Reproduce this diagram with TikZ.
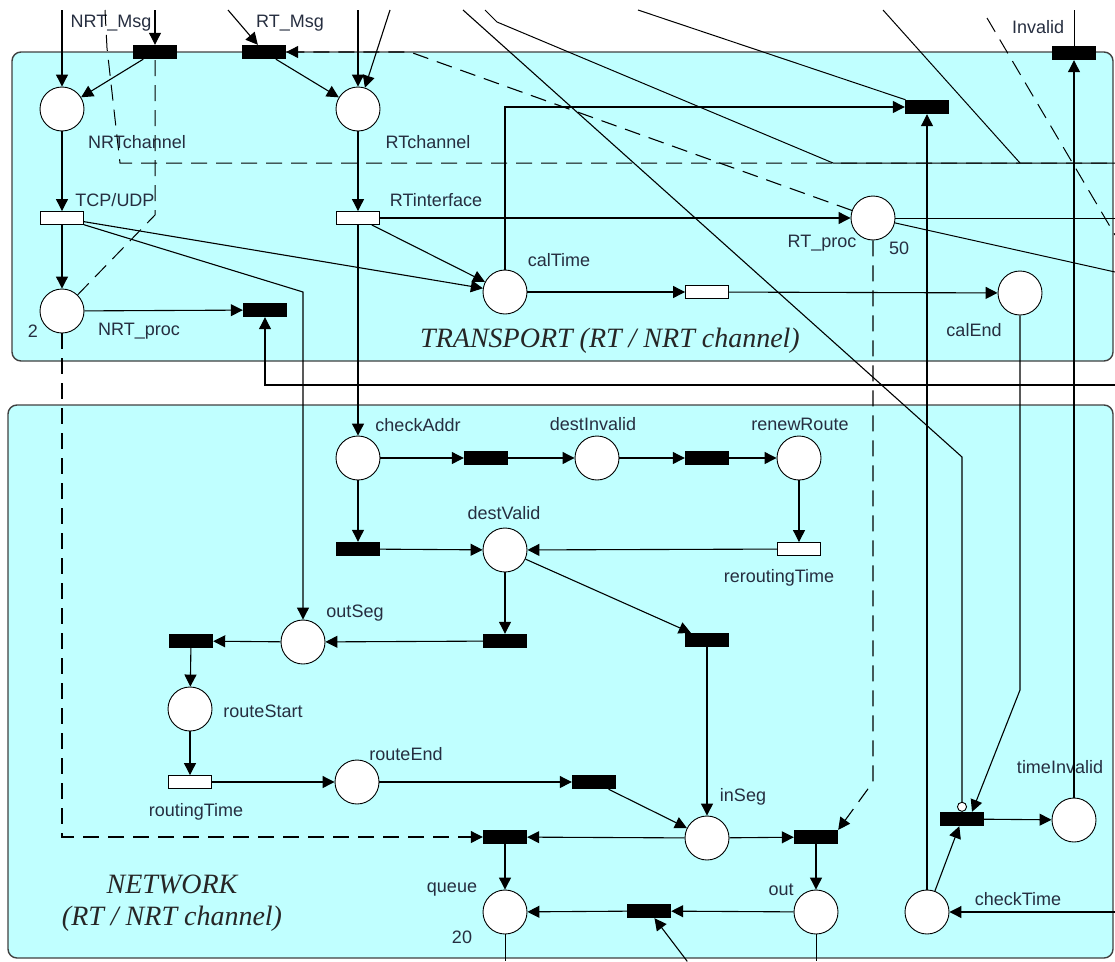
\documentclass[tikz,border=0pt]{standalone}
\usepackage{fontspec}
\setmainfont{Liberation Sans}
\newfontfamily\serifit{Liberation Serif}
\usetikzlibrary{shapes,arrows.meta}
\definecolor{layerbg}{RGB}{192,255,255}
\definecolor{lbl}{RGB}{38,46,64}

\begin{document}
\begin{tikzpicture}[x=1pt,y=-1pt,
  place/.style={shape=circle,draw=black,fill=white,minimum size=44pt,inner sep=0pt,line width=0.9pt},
  bar/.style={shape=rectangle,fill=black,minimum width=44pt,minimum height=14pt,inner sep=0pt},
  tbar/.style={shape=rectangle,draw=black,fill=white,minimum width=43pt,minimum height=13pt,inner sep=0pt,line width=0.9pt},
  wire/.style={draw=black,line width=1pt},
  arc/.style={-{Triangle[length=12pt,width=12pt]},draw=black,line width=1.1pt},
  inhib/.style={-{Circle[length=10pt,width=10pt,fill=white,line width=0.9pt]},draw=black,line width=1.1pt},
  dsh/.style={dash pattern=on 16pt off 9pt},
  txt/.style={text=lbl,font=\fontsize{18}{20}\selectfont,inner sep=0pt},
  layer/.style={text=black!85,font=\serifit\itshape\fontsize{28}{32}\selectfont,align=center,inner sep=0pt},
  frame/.style={draw=black!75,fill=layerbg,line width=1.4pt,rounded corners=9pt}]
\clip (0,0) rectangle (1115,961);

% the two layers
\draw[frame] (12,52) rectangle (1113,361);
\draw[frame] (8,405) rectangle (1113,958);
\node[layer] (transport) at (610,341) {TRANSPORT (RT / NRT channel)};
\node[layer] (network) at (172,903) {NETWORK\\(RT / NRT channel)};

% places
\node[place] (NRTchannel) at (62,109) {};
\node[place] (RTchannel) at (358,109) {};
\node[place] (NRTproc) at (62,311) {};
\node[place] (calTime) at (505,292) {};
\node[place] (RTproc) at (873,218) {};
\node[place] (calEnd) at (1020,293) {};
\node[place] (checkAddr) at (358,458) {};
\node[place] (destInvalid) at (597,458) {};
\node[place] (renewRoute) at (799,458) {};
\node[place] (destValid) at (505,550) {};
\node[place] (outSeg) at (303,642) {};
\node[place] (routeStart) at (190,709) {};
\node[place] (routeEnd) at (357,782) {};
\node[place] (inSeg) at (707,838) {};
\node[place] (queue) at (505,912) {};
\node[place] (out) at (816,912) {};
\node[place] (checkTime) at (927,912) {};
\node[place] (timeInvalid) at (1074,820) {};

% transitions
\node[bar] (NRTmsg) at (155,52) {};
\node[bar] (RTmsg) at (264,52) {};
\node[bar] (invalid) at (1074,53) {};
\node[bar] (t1) at (927,107) {};
\node[bar] (t2) at (265,310) {};
\node[bar] (t3) at (486,458) {};
\node[bar] (t4) at (707,458) {};
\node[bar] (t5) at (358,549) {};
\node[bar] (t6) at (505,641) {};
\node[bar] (t7) at (707,640) {};
\node[bar] (t8) at (191,641) {};
\node[bar] (t9) at (594,782) {};
\node[bar] (t10) at (505,837) {};
\node[bar] (t11) at (816,837) {};
\node[bar] (t12) at (649,911) {};
\node[bar] (t13) at (962,819) {};
\node[tbar] (tcpudp) at (62,218) {};
\node[tbar] (rtif) at (358,218) {};
\node[tbar] (calt) at (707,292) {};
\node[tbar] (rerouting) at (799,549) {};
\node[tbar] (routing) at (190,782) {};

% loose ends at the border
\coordinate (in0) at (62,10);
\coordinate (in1) at (155,10);
\coordinate (in2) at (228,10);
\coordinate (in3) at (358,10);
\coordinate (in4) at (390,10);
\coordinate (in5) at (105,10);
\coordinate (in6) at (463,10);
\coordinate (in7) at (485,10);
\coordinate (in8) at (638,10);
\coordinate (in9) at (883,10);
\coordinate (in10) at (987,18);
\coordinate (in11) at (1074,10);
\coordinate (r0) at (1115,163);
\coordinate (r1) at (1115,218);
\coordinate (r2) at (1115,272);
\coordinate (r3) at (1115,235);
\coordinate (r4) at (1115,385);
\coordinate (r5) at (1115,912);
\coordinate (b0) at (505,961);
\coordinate (b1) at (816,961);
\coordinate (b2) at (687,961);

% labels
\node[txt] (lNRTmsg) at (111,23) {NRT\_Msg};
\node[txt] (lRTmsg) at (290,23) {RT\_Msg};
\node[txt] (lInvalid) at (1038,27) {Invalid};
\node[txt] (lNRTchannel) at (137,142) {NRTchannel};
\node[txt] (lRTchannel) at (428,142) {RTchannel};
\node[txt] (lTCP) at (115,200) {TCP/UDP};
\node[txt] (lRTif) at (436,200) {RTinterface};
\node[txt] (lcalTime) at (559,260) {calTime};
\node[txt] (lRTproc) at (822,243) {RT\_proc};
\node[txt] (lRTproc50) at (899,248) {50};
\node[txt] (lNRTproc2) at (33,331) {2};
\node[txt] (lNRTproc) at (139,331) {NRT\_proc};
\node[txt] (lcalEnd) at (974,330) {calEnd};
\node[txt] (lcheckAddr) at (418,425) {checkAddr};
\node[txt] (ldestInvalid) at (593,424) {destInvalid};
\node[txt] (lrenewRoute) at (800,424) {renewRoute};
\node[txt] (ldestValid) at (504,513) {destValid};
\node[txt] (lrerouting) at (779,578) {reroutingTime};
\node[txt] (loutSeg) at (355,613) {outSeg};
\node[txt] (lrouteStart) at (263,711) {routeStart};
\node[txt] (lrouteEnd) at (406,754) {routeEnd};
\node[txt] (lrouting) at (196,812) {routingTime};
\node[txt] (linSeg) at (743,797) {inSeg};
\node[txt] (ltimeInvalid) at (1060,767) {timeInvalid};
\node[txt] (lqueue) at (452,890) {queue};
\node[txt] (lqueue20) at (462,937) {20};
\node[txt] (lout) at (781,890) {out};
\node[txt] (lcheckTime) at (1018,899) {checkTime};

% transport layer arcs
\draw [arc] (in0) -- (NRTchannel);
\draw [arc] (in1) -- (NRTmsg);
\draw [arc] (in2) -- (RTmsg);
\draw [arc] (in3) -- (RTchannel);
\draw [arc] (in4) -- (RTchannel);
\path [arc] (NRTmsg) edge (NRTchannel);
\path [arc] (RTmsg) edge (RTchannel);
\path [arc] (NRTchannel) edge (tcpudp);
\path [arc] (RTchannel) edge (rtif);
\path [arc] (tcpudp) edge (NRTproc);
\path [arc] (NRTproc) edge (t2);
\path [arc] (tcpudp) edge (calTime);
\path [arc] (rtif) edge (calTime);
\path [arc] (rtif) edge (RTproc);
\path [arc] (calTime) edge (calt);
\path [arc] (calt) edge (calEnd);
\draw [arc] (calTime) |- (t1);
\draw [arc] (checkTime) -- (t1);
\draw [arc] (timeInvalid) -- (invalid);
\draw [arc] (r4) -| (t2);
\draw [arc] (tcpudp) -- (303,292) -- (outSeg);
\draw [arc] (rtif) -- (checkAddr);
\draw [wire] (in8) -- (t1);
\draw [wire] (in11) -- (invalid);
\draw [wire] (RTproc) -- (r1);
\draw [wire] (RTproc) -- (r2);
\draw [wire] (in7) -- (497,22) -- (833,163) -- (r0);
\draw [wire] (in9) -- (1020,163);
\draw [wire,dsh] (in5) -- (107,48) -- (120,163) -- (r0);
\draw [wire,dsh] (in10) -- (r3);
\draw [wire,dsh] (NRTproc) -- (155,215) -- (NRTmsg);
\draw [arc,dsh] (RTproc) -- (410,52) -- (RTmsg);

% network layer arcs
\path [arc] (checkAddr) edge (t3);
\path [arc] (t3) edge (destInvalid);
\path [arc] (destInvalid) edge (t4);
\path [arc] (t4) edge (renewRoute);
\path [arc] (renewRoute) edge (rerouting);
\path [arc] (rerouting) edge (destValid);
\path [arc] (checkAddr) edge (t5);
\path [arc] (t5) edge (destValid);
\path [arc] (destValid) edge (t6);
\path [arc] (destValid) edge (t7);
\path [arc] (t6) edge (outSeg);
\path [arc] (outSeg) edge (t8);
\path [arc] (t8) edge (routeStart);
\path [arc] (routeStart) edge (routing);
\path [arc] (routing) edge (routeEnd);
\path [arc] (routeEnd) edge (t9);
\path [arc] (t9) edge (inSeg);
\path [arc] (t7) edge (inSeg);
\path [arc] (inSeg) edge (t10);
\path [arc] (inSeg) edge (t11);
\path [arc] (t10) edge (queue);
\path [arc] (t11) edge (out);
\path [arc] (out) edge (t12);
\path [arc] (t12) edge (queue);
\path [arc] (b2) edge (t12);
\path [arc] (checkTime) edge (t13);
\path [arc] (t13) edge (timeInvalid);
\draw [arc] (r5) -- (checkTime);
\draw [arc] (calEnd) -- (1020,690) -- ([xshift=10pt]t13.north);
\draw [inhib] (in6) -- (962,457) -- (t13);
\draw [wire] (queue) -- (b0);
\draw [wire] (out) -- (b1);
\draw [arc,dsh] (NRTproc) -- (62,837) -- (t10);
\draw [arc,dsh] (RTproc) -- (873,782) -- (t11.north east);
\end{tikzpicture}
\end{document}
